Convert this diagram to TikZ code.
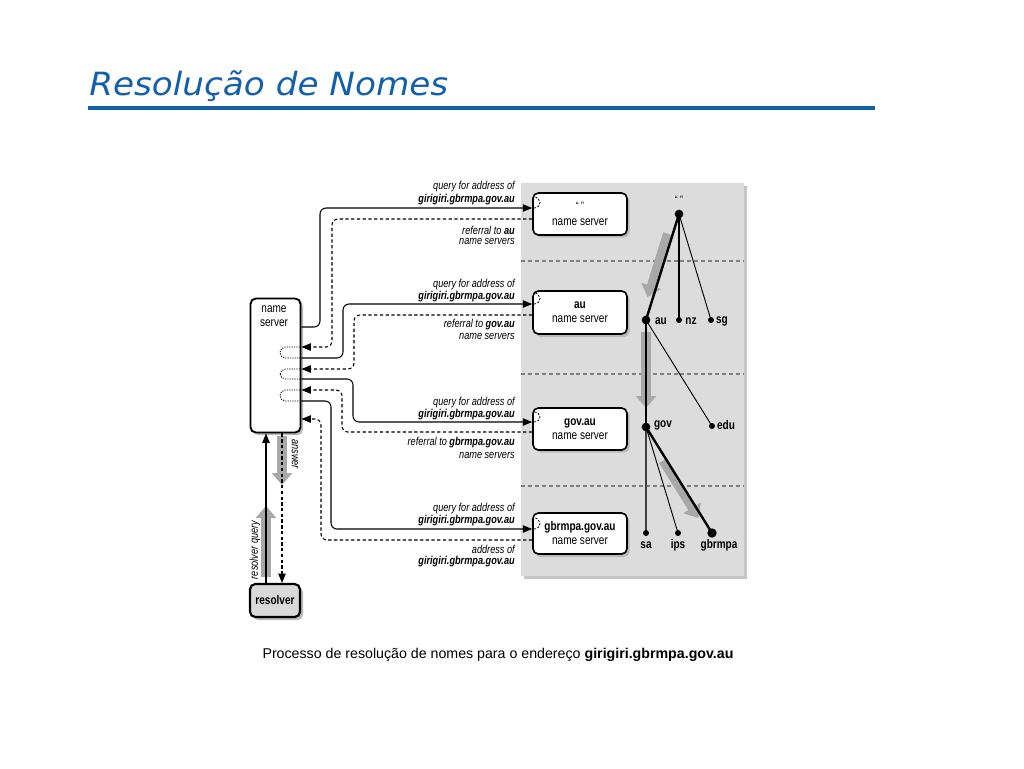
\documentclass[tikz,border=0pt]{standalone}
\usepackage{fontspec}
\setmainfont{Liberation Sans}
\newfontfamily\cnd[FakeStretch=0.8]{Liberation Sans}
\newfontfamily\ttl[FakeStretch=1.07]{DejaVu Sans}
\usetikzlibrary{arrows.meta,calc}
\definecolor{ttlblue}{RGB}{20,95,170}
\definecolor{panel}{RGB}{220,220,220}
\definecolor{bigarr}{RGB}{168,168,168}
\begin{document}
\begin{tikzpicture}[x=0.75pt,y=-0.75pt,
  lbl/.style={font=\cnd\fontsize{8.6pt}{9pt}\selectfont\itshape, anchor=east, inner sep=0},
  lblb/.style={font=\cnd\fontsize{8.6pt}{9pt}\selectfont\bfseries\itshape, anchor=east, inner sep=0},
  srv/.style={draw, line width=1.2pt, rounded corners=4pt, fill=white, minimum width=70.5pt, minimum height=31.5pt, align=center, font=\cnd\fontsize{9.4pt}{10.5pt}\selectfont, inner sep=0},
  tlab/.style={font=\cnd\fontsize{9.4pt}{10pt}\selectfont\bfseries, inner sep=0},
  dot/.style={circle, fill=black, inner sep=0, minimum size=#1},
  qry/.style={line width=0.8pt, rounded corners=4.5pt},
  ref/.style={line width=0.8pt, dash pattern=on 2.5pt off 1.8pt, rounded corners=4.5pt},
  loopd/.style={line width=0.6pt, dash pattern=on 0.9pt off 0.9pt},
  tip/.style={-{Triangle[length=7pt,width=5.5pt]}},
  big/.style={line width=8pt, draw=bigarr, -{Triangle[length=9pt,width=15pt]}},
  sep/.style={line width=1pt, gray, dash pattern=on 3pt off 2.2pt},
  thin/.style={line width=0.7pt},
  thick/.style={line width=1.8pt}]
\useasboundingbox (0,0) rectangle (1024,768);
\fill[white] (0,0) rectangle (1024,768);
% title
\node[anchor=base west, inner sep=0, text=ttlblue, font=\ttl\fontsize{24pt}{28pt}\selectfont\itshape] (title) at (89,95) {Resolução de Nomes};
\draw[ttlblue, line width=2.6pt] (88,108) -- (875,108);
% panel
\fill[gray!45] (524,186) rectangle (747,579);
\fill[panel] (521,183) rectangle (744,576);
\draw[sep] (521,261) -- (744,261);
\draw[sep] (521,374) -- (744,374);
\draw[sep] (521,486) -- (744,486);
% server boxes
\foreach \y/\h in {214/42, 313/43, 429/42, 534/41}{
  \fill[gray!55, rounded corners=4pt] (535.5,{\y-\h/2+2.5}) rectangle (629.5,{\y+\h/2+2.5});
}
\node[srv, minimum height=31.5pt] (s1) at (580,214) {\fontsize{8pt}{8pt}\selectfont “ ”\\[1pt]name server};
\node[srv, minimum height=32.25pt] (s2) at (580,312.5) {\textbf{au}\\name server};
\node[srv, minimum height=31.5pt] (s3) at (580,429) {\textbf{gov.au}\\name server};
\node[srv, minimum height=30.75pt] (s4) at (580,533.5) {\textbf{gbrmpa.gov.au}\\name server};
% name server and resolver
\fill[gray!55, rounded corners=4pt] (253,301) rectangle (303,435);
\node[draw, line width=1.4pt, rounded corners=4pt, fill=white, minimum width=37.5pt, minimum height=100.5pt, inner sep=0] (ns) at (275.5,365.5) {};
\node[align=center, inner sep=0, font=\cnd\fontsize{9.4pt}{10.5pt}\selectfont] (nslab) at (274,316) {name\\server};
\fill[gray!55, rounded corners=4pt] (253,587) rectangle (303,620);
\node[draw, line width=1.6pt, rounded corners=4pt, fill=gray!30, minimum width=37.5pt, minimum height=24.75pt, inner sep=0, font=\cnd\fontsize{9.4pt}{10pt}\selectfont\bfseries] (res) at (275,600.5) {resolver};
% big gray arrows (left)
\draw[big] (266,577) -- (266,506);
\draw[big] (282,436) -- (282,485);
\node[rotate=90, inner sep=0, font=\cnd\fontsize{8.6pt}{9pt}\selectfont\itshape] (rq) at (255,550) {resolver query};
\node[rotate=-90, inner sep=0, font=\cnd\fontsize{8.6pt}{9pt}\selectfont\itshape] (ans) at (295,454) {answer};
\draw[line width=0.8pt, tip] (res.north -| 266,0) -- (ns.south -| 266,0);
\draw[ref, tip, rounded corners=0] (ns.south -| 282,0) -- (res.north -| 282,0);
% queries and referrals
\draw[qry, tip] (ns.east |- 0,327) -- (320,327) -- (320,208) -- (s1.west |- 0,208);
\draw[ref, tip] (s1.west |- 0,219) -- (332,219) -- (332,347) -- (ns.east |- 0,347);
\draw[qry, tip] (ns.east |- 0,358) -- (343,358) -- (343,304) -- (s2.west |- 0,304);
\draw[ref, tip] (s2.west |- 0,315) -- (354,315) -- (354,369) -- (ns.east |- 0,369);
\draw[qry, tip] (ns.east |- 0,379) -- (353,379) -- (353,422) -- (s3.west |- 0,422);
\draw[ref, tip] (s3.west |- 0,432) -- (342,432) -- (342,390) -- (ns.east |- 0,390);
\draw[qry, tip] (ns.east |- 0,401) -- (331,401) -- (331,529) -- (s4.west |- 0,529);
\draw[ref, tip] (s4.west |- 0,540) -- (321,540) -- (321,419) -- (ns.east |- 0,419);
% loops in name server
\foreach \a/\b in {347/358, 369/379, 390/401}{
  \draw[loopd, rounded corners=4pt] (300,\a) -- (280,\a) -- (280,\b) -- (300,\b);
}
% loops in servers
\foreach \a/\b in {208/219, 304/315, 422/432, 529/540}{
  \draw[loopd, dash pattern=on 1.5pt off 1.2pt] (534,\a) arc[start angle=90, end angle=-90, x radius=6, y radius={(\b-\a)/2}];
}
% labels
\node[lbl] (l1a) at (515,187) {query for address of};
\node[lblb] (l1b) at (515,200) {girigiri.gbrmpa.gov.au};
\node[lbl] (l1c) at (515,230) {referral to \textbf{au}};
\node[lbl] (l1d) at (515,241) {name servers};
\node[lbl] (l2a) at (515,285) {query for address of};
\node[lblb] (l2b) at (515,297) {girigiri.gbrmpa.gov.au};
\node[lbl] (l2c) at (515,325) {referral to \textbf{gov.au}};
\node[lbl] (l2d) at (515,336) {name servers};
\node[lbl] (l3a) at (515,403) {query for address of};
\node[lblb] (l3b) at (515,415) {girigiri.gbrmpa.gov.au};
\node[lbl] (l3c) at (515,443) {referral to \textbf{gbrmpa.gov.au}};
\node[lbl] (l3d) at (515,455) {name servers};
\node[lbl] (l4a) at (515,509) {query for address of};
\node[lblb] (l4b) at (515,521) {girigiri.gbrmpa.gov.au};
\node[lbl] (l4c) at (515,549) {address of};
\node[lblb] (l4d) at (515,562) {girigiri.gbrmpa.gov.au};
% tree
\coordinate (root) at (679,214);
\coordinate (au) at (646,320);
\coordinate (nz) at (679,320);
\coordinate (sg) at (711,320);
\coordinate (gov) at (646,427);
\coordinate (edu) at (712,426);
\coordinate (sa) at (646,533);
\coordinate (ips) at (678,533);
\coordinate (gb) at (712,533);
% gray arrows along path
\draw[big, line width=6.5pt] ($(root)!0.2!(au)+(-5,-1.5)$) -- ($(root)!0.8!(au)+(-5,-1.5)$);
\draw[big, line width=8pt] (646,332) -- (646,408);
\draw[big, line width=6.5pt] ($(gov)!0.3!(gb)+(-3,2)$) -- ($(gov)!0.84!(gb)+(-3,2)$);
\draw[thick] (root) -- (au);
\draw[line width=1pt] (root) -- (nz);
\draw[thin] (root) -- (sg);
\draw[line width=2.2pt] (au) -- (gov);
\draw[thin] (au) -- (edu);
\draw[line width=0.9pt, black!75] (gov) -- (sa);
\draw[thin] (gov) -- (ips);
\draw[thick] (gov) -- (gb);
\node[dot=6.5pt] (nroot) at (root) {};
\node[dot=6.5pt] (nau) at (au) {};
\node[dot=4.5pt] (nnz) at (nz) {};
\node[dot=4.5pt] (nsg) at (sg) {};
\node[dot=6.5pt] (ngov) at (gov) {};
\node[dot=4.5pt] (nedu) at (edu) {};
\node[dot=4.5pt] (nsa) at (sa) {};
\node[dot=4.5pt] (nips) at (ips) {};
\node[dot=7pt] (ngb) at (gb) {};
\node[inner sep=0, font=\cnd\fontsize{8pt}{8pt}\selectfont] (troot) at (679,200) {“ ”};
\node[tlab] (tau) at (661,321) {au};
\node[tlab] (tnz) at (691,321) {nz};
\node[tlab] (tsg) at (722,321) {sg};
\node[tlab] (tgov) at (663,425) {gov};
\node[tlab] (tedu) at (726,425) {edu};
\node[tlab] (tsa) at (646,545) {sa};
\node[tlab] (tips) at (678,545) {ips};
\node[tlab] (tgb) at (719,545) {gbrmpa};
% caption
\node[inner sep=0, font=\fontsize{10.65pt}{12pt}\selectfont] (cap) at (498,655) {Processo de resolução de nomes para o endereço \textbf{girigiri.gbrmpa.gov.au}};
\end{tikzpicture}
\end{document}
